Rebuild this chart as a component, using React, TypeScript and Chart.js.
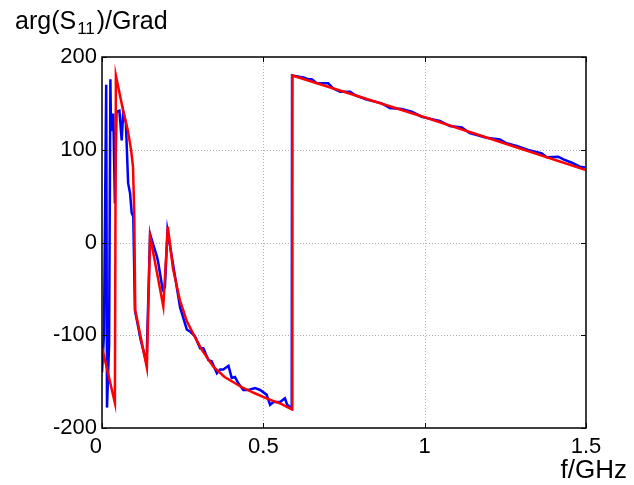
import React, { useEffect, useRef } from "react";
import { Chart, registerables } from "chart.js";

Chart.register(...registerables);

const blueF = [0.000, 0.006, 0.013, 0.0155, 0.022, 0.026, 0.028, 0.035, 0.040, 0.045, 0.054, 0.061, 0.066, 0.074, 0.081, 0.087, 0.092, 0.097, 0.102, 0.120, 0.138, 0.149, 0.170, 0.174, 0.188, 0.195, 0.203, 0.242, 0.263, 0.273, 0.288, 0.304, 0.314, 0.330, 0.340, 0.356, 0.366, 0.376, 0.392, 0.402, 0.412, 0.423, 0.438, 0.454, 0.474, 0.490, 0.510, 0.521, 0.531, 0.552, 0.567, 0.574, 0.588, 0.589, 0.624, 0.639, 0.650, 0.665, 0.681, 0.701, 0.717, 0.738, 0.769, 0.784, 0.820, 0.867, 0.892, 0.929, 0.960, 0.991, 1.022, 1.047, 1.078, 1.115, 1.140, 1.192, 1.233, 1.254, 1.285, 1.321, 1.363, 1.378, 1.414, 1.430, 1.456, 1.481, 1.497];
const blueArg = [-140, -100, 170, -178, -110, 176, 120, 139, 42, 141, 142, 110, 141, 129, 64, 53, 32, 28, -73, -105, -130, 9, -15, -21, -51, -48, 13, -70, -94, -96, -101, -114, -114, -127, -128, -141, -137, -137, -133, -146, -145, -152, -159, -159, -157, -159, -164, -175, -172, -172, -168, -175, -179, 180, 178, 176, 176, 172, 171.6, 171.6, 166, 162.6, 162.6, 159, 154, 150, 145, 144, 141, 135.6, 133, 131, 125.6, 124, 118, 113, 111, 107, 104, 99.7, 96, 92, 92.5, 89.7, 86, 81.7, 81];

const redF = [0.000, 0.040, 0.043, 0.065, 0.080, 0.090, 0.096, 0.100, 0.103, 0.139, 0.149, 0.190, 0.204, 0.220, 0.242, 0.263, 0.285, 0.310, 0.345, 0.380, 0.428, 0.470, 0.510, 0.555, 0.589, 0.590, 1.000, 1.500];
const redArg = [-113, -173, 180, 143, 121, 100, 82, 30, -73, -135, 7, -69, 17, -28, -63, -85, -100, -116, -134, -145, -155, -162, -168, -174, -180, 180, 135, 78];

const xTicks = [0, 0.5, 1, 1.5];
const xTickLabels = ["0  ", "0.5", "1", "1.5"];
const yTicks = [-200, -100, 0, 100, 200];
const yTickLabels = ["-200", "-100", "0", "100", "200"];

const FONT = "'Liberation Sans', Arial, Helvetica, sans-serif";
const FS = 22;
const TFS = 25;

const framePlugin = {
  id: "frame",
  beforeDatasetsDraw(chart: any) {
    const { ctx, chartArea: a, scales } = chart;
    ctx.save();
    ctx.strokeStyle = "#b0b0b0";
    ctx.lineWidth = 1;
    ctx.setLineDash([1, 2]);
    for (const v of xTicks) {
      const px = Math.round(scales.x.getPixelForValue(v)) + 0.5;
      if (px <= a.left + 1 || px >= a.right - 1) continue;
      ctx.beginPath();
      ctx.moveTo(px, a.top);
      ctx.lineTo(px, a.bottom);
      ctx.stroke();
    }
    for (const v of yTicks) {
      const py = Math.round(scales.y.getPixelForValue(v)) + 0.5;
      if (py <= a.top + 1 || py >= a.bottom - 1) continue;
      ctx.beginPath();
      ctx.moveTo(a.left, py);
      ctx.lineTo(a.right, py);
      ctx.stroke();
    }
    ctx.restore();
  },
  afterDatasetsDraw(chart: any) {
    const { ctx, chartArea: a, scales } = chart;
    ctx.save();
    ctx.strokeStyle = "#000";
    ctx.lineWidth = 1.5;
    ctx.setLineDash([]);
    ctx.strokeRect(a.left, a.top, a.right - a.left, a.bottom - a.top);
    const tl = 5;
    ctx.lineWidth = 1;
    for (const v of xTicks) {
      const px = Math.round(scales.x.getPixelForValue(v)) + 0.5;
      ctx.beginPath();
      ctx.moveTo(px, a.bottom);
      ctx.lineTo(px, a.bottom - tl);
      ctx.moveTo(px, a.top);
      ctx.lineTo(px, a.top + tl);
      ctx.stroke();
    }
    for (const v of yTicks) {
      const py = Math.round(scales.y.getPixelForValue(v)) + 0.5;
      ctx.beginPath();
      ctx.moveTo(a.left, py);
      ctx.lineTo(a.left + tl, py);
      ctx.moveTo(a.right, py);
      ctx.lineTo(a.right - tl, py);
      ctx.stroke();
    }
    // titles
    ctx.fillStyle = "#000";
    ctx.textBaseline = "alphabetic";
    ctx.textAlign = "left";
    ctx.font = `${TFS}px ${FONT}`;
    let x = 15;
    const base = 29;
    ctx.fillText("arg(S", x, base);
    x += ctx.measureText("arg(S").width;
    ctx.font = `${Math.round(TFS * 0.68)}px ${FONT}`;
    ctx.fillText("11", x + 1, base + 5);
    x += ctx.measureText("11").width + 3;
    ctx.font = `${TFS}px ${FONT}`;
    ctx.fillText(")/Grad", x, base);
    ctx.textAlign = "right";
    ctx.font = `${TFS + 1}px ${FONT}`;
    ctx.fillText("f/GHz", 627, 478);
    ctx.restore();
  },
};

export default function App() {
  const ref = useRef<HTMLCanvasElement>(null);
  useEffect(() => {
    if (!ref.current) return;
    const chart = new Chart(ref.current, {
      type: "line",
      data: {
        datasets: [
          {
            label: "fit",
            data: redF.map((f, i) => ({ x: f, y: redArg[i] })),
            borderColor: "#ff0000",
            borderWidth: 2.5,
            pointRadius: 0,
            tension: 0,
            fill: false,
          },
          {
            label: "meas",
            data: blueF.map((f, i) => ({ x: f, y: blueArg[i] })),
            borderColor: "#0000ff",
            borderWidth: 2.5,
            pointRadius: 0,
            tension: 0,
            fill: false,
          },
        ],
      },
      options: {
        responsive: false,
        animation: false,
        events: [],
        layout: { padding: { left: 0, top: 57, right: 48, bottom: 0 } },
        plugins: { legend: { display: false }, tooltip: { enabled: false } },
        scales: {
          x: {
            type: "linear",
            min: 0,
            max: 1.5,
            afterFit: (s: any) => { s.height = 57; },
            afterBuildTicks: (s: any) => { s.ticks = xTicks.map((v) => ({ value: v })); },
            grid: { display: false, drawTicks: false },
            border: { display: false },
            ticks: {
              padding: 6,
              color: "#000",
              font: { family: FONT, size: FS },
              maxRotation: 0,
              callback: (v: any) => { const i = xTicks.indexOf(Number(v)); return i >= 0 ? xTickLabels[i] : ""; },
            },
          },
          y: {
            type: "linear",
            min: -200,
            max: 200,
            afterFit: (s: any) => { s.width = 102; },
            afterBuildTicks: (s: any) => { s.ticks = yTicks.map((v) => ({ value: v })); },
            grid: { display: false, drawTicks: false },
            border: { display: false },
            ticks: {
              padding: 5,
              color: "#000",
              font: { family: FONT, size: FS },
              callback: (v: any) => { const i = yTicks.indexOf(Number(v)); return i >= 0 ? yTickLabels[i] : ""; },
            },
          },
        },
      },
      plugins: [framePlugin],
    });
    return () => chart.destroy();
  }, []);
  return (
    <canvas
      ref={ref}
      width={634}
      height={485}
      style={{ position: "fixed", left: 0, top: 0, width: 634, height: 485, background: "#fff" }}
    />
  );
}
